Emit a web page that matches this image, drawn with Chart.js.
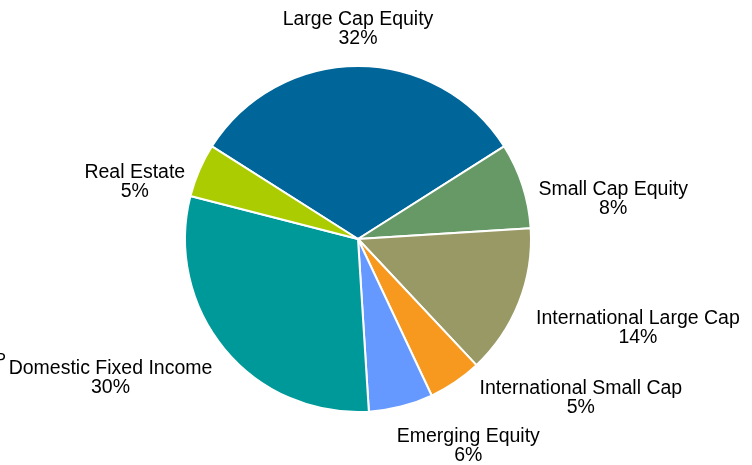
<!DOCTYPE html>
<html>
<head>
<meta charset="utf-8">
<script src="https://cdn.jsdelivr.net/npm/chart.js@4"></script>
<style>
  body { margin: 0; background: #fff; }
  #wrap { width: 752px; height: 465px; }
</style>
</head>
<body>
<div id="wrap"><canvas id="allocChart" width="752" height="465"></canvas></div>
<script>
var categories = ['Large Cap Equity', 'Small Cap Equity', 'International Large Cap',
    'International Small Cap', 'Emerging Equity', 'Domestic Fixed Income', 'Real Estate'];
var weights = [32, 8, 14, 5, 6, 30, 5];
var sliceColors = ['#006699', '#669966', '#999966', '#F7991E', '#6699FF', '#009999', '#AACC00'];

// small hand nudges so labels sit where the original put them
var labelNudge = [[0, -8], [10, 23], [15, 15], [63, -8], [47, 11], [-28, 10], [-9, 23]];

var labelFont = '19.5px "Liberation Sans", Arial, sans-serif';

var outsideLabels = {
    id: 'outsideLabels',
    afterDatasetsDraw: function(chart) {
        var ctx = chart.ctx;
        var arcs = chart.getDatasetMeta(0).data;
        ctx.save();
        ctx.font = labelFont;
        ctx.fillStyle = '#000';
        ctx.textAlign = 'center';
        ctx.textBaseline = 'middle';
        var lineH = 19;
        arcs.forEach(function(arc, i) {
            var p = arc.getProps(['x', 'y', 'startAngle', 'endAngle', 'outerRadius'], true);
            var mid = (p.startAngle + p.endAngle) / 2;
            var dx = Math.cos(mid), dy = Math.sin(mid);
            var ax = p.x + dx * (p.outerRadius + 10);
            var ay = p.y + dy * (p.outerRadius + 10);
            var line1 = categories[i];
            var line2 = weights[i] + '%';
            var w = Math.max(ctx.measureText(line1).width, ctx.measureText(line2).width);
            var h = lineH * 2;
            var cx = ax + dx * w / 2 + labelNudge[i][0];
            var cy = ay + dy * h / 2 + labelNudge[i][1];
            ctx.fillText(line1, cx, cy - lineH / 2);
            ctx.fillText(line2, cx, cy + lineH / 2);
        });
        // clipped fragment at the left edge of the original picture
        ctx.font = '16px "Liberation Sans", Arial, sans-serif';
        ctx.textAlign = 'right';
        ctx.textBaseline = 'alphabetic';
        ctx.fillText('P', 6, 365);
        ctx.restore();
    }
};

var ctx = document.getElementById('allocChart').getContext('2d');
var allocChart = new Chart(ctx, {
    type: 'pie',
    data: {
        labels: categories,
        datasets: [{
            data: weights,
            backgroundColor: sliceColors,
            borderColor: '#ffffff',
            borderWidth: 2
        }]
    },
    options: {
        responsive: false,
        animation: false,
        rotation: -57.6,
        layout: {
            padding: { top: 65, bottom: 52, left: 184, right: 220 }
        },
        plugins: {
            legend: { display: false },
            tooltip: { enabled: false }
        }
    },
    plugins: [outsideLabels]
});
</script>
</body>
</html>
